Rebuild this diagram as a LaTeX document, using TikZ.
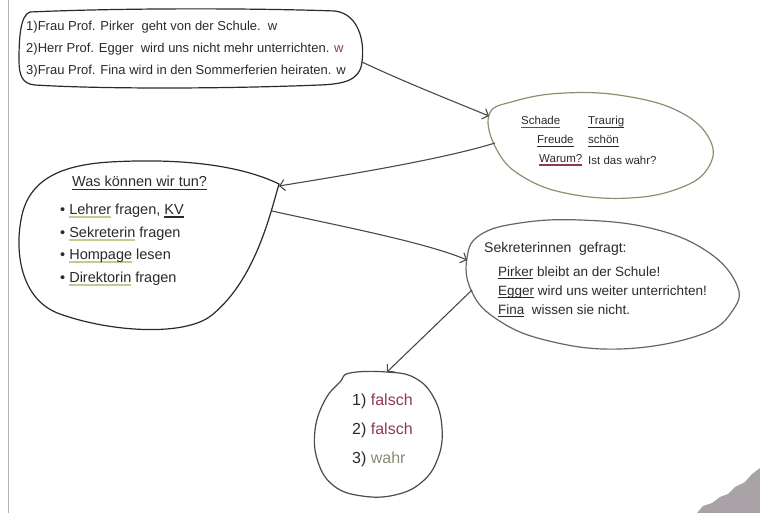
\documentclass[tikz,border=0pt]{standalone}
\usepackage{fontspec}
\setmainfont{Liberation Sans}
\usetikzlibrary{arrows.meta}
\definecolor{ink}{HTML}{2A2A2A}
\definecolor{pen}{HTML}{4A4A4A}
\definecolor{olivepen}{HTML}{8E8E70}
\definecolor{greypen}{HTML}{666666}
\definecolor{redink}{HTML}{8E3A52}
\definecolor{hlgreen}{HTML}{C9C98F}
\definecolor{wahrc}{HTML}{8A8A74}
\definecolor{smudge}{HTML}{A9A2A6}
\definecolor{marginc}{HTML}{B4B4B4}
\newlength\ulw
\newcommand\uln[2]{\settowidth{\ulw}{#2}\rlap{\color{#1}\rule[-3pt]{\ulw}{1.1pt}}#2}
\newcommand\hlw[1]{\settowidth{\ulw}{#1}\rlap{\color{hlgreen}\rule[-3.5pt]{\ulw}{2.4pt}}#1}
\begin{document}
\begin{tikzpicture}[x=1pt,y=-1pt,
  blob/.style={draw=pen, line width=1.2pt, line join=round},
  conn/.style={draw=pen, line width=1.1pt, -{Straight Barb[length=5pt,width=11pt]}},
  txt/.style={anchor=west, inner sep=0pt, text=ink, font=\fontsize{13}{15}\selectfont},
  stxt/.style={txt, font=\fontsize{11.5}{13}\selectfont},
  wtxt/.style={txt, font=\fontsize{14.5}{17}\selectfont},
  ktxt/.style={txt, font=\fontsize{13.5}{15}\selectfont},
  atxt/.style={txt, font=\fontsize{16}{18}\selectfont}]
\useasboundingbox (0,0) rectangle (760,513);
% paper margin and smudge
\draw[marginc, line width=1pt] (8,0) -- (8,513);
\fill[smudge] (697,513) -- (703,506) -- (712,503) -- (720,497) -- (728,494) -- (735,487)
  -- (745,482) -- (752,474) -- (760,468) -- (760,513) -- cycle;

% outlines
\draw[blob, draw=ink] (30,12) .. controls (120,8) and (250,8) .. (335,11)
  .. controls (358,14) and (365,40) .. (362,62)
  .. controls (360,80) and (345,84) .. (320,85)
  .. controls (220,89) and (100,89) .. (35,85)
  .. controls (22,84) and (19,75) .. (19,60)
  .. controls (19,40) and (20,15) .. (30,12) -- cycle;
\draw[blob, draw=olivepen] plot[smooth cycle, tension=0.7] coordinates {(489,115) (515,101) (565,93) (625,96) (680,112) (710,140) (708,168) (680,188) (630,198) (570,194) (525,178) (498,152)};
\draw[blob, draw=ink] (279,184) .. controls (270,215) and (255,280) .. (212,315)
  .. controls (185,337) and (110,332) .. (60,314)
  .. controls (20,300) and (14,250) .. (22,215)
  .. controls (30,180) and (60,165) .. (110,162)
  .. controls (180,158) and (240,165) .. (279,184) -- cycle;
\draw[blob, draw=greypen] plot[smooth cycle, tension=0.7] coordinates {(467,258) (480,235) (520,223) (580,220) (650,228) (705,250) (736,283) (733,310) (700,335) (620,349) (545,340) (495,318) (471,290)};
\draw[blob] plot[smooth cycle, tension=0.7] coordinates {(350,373) (387,372) (415,378) (434,398) (442,428) (438,458) (422,482) (395,495) (362,496) (334,486) (318,462) (315,430) (325,400) (340,382)};

% connector end points on the outlines
\coordinate (topOut) at (362,62);
\coordinate (schIn) at (489,116);
\coordinate (schOut) at (495,143);
\coordinate (wasIn) at (279,186);
\coordinate (wasOut) at (272,211);
\coordinate (sekIn) at (467,260);
\coordinate (sekOut) at (472,290);
\coordinate (ansIn) at (387,372);

% top box text
\node[txt] (l1) at (26,27) {1)Frau Prof. Pirker\ \ geht von der Schule.\ \ w};
\node[txt] (l2) at (26,49) {2)Herr Prof. Egger\ \ wird uns nicht mehr unterrichten. \textcolor{redink}{w}};
\node[txt] (l3) at (26,71) {3)Frau Prof. Fina wird in den Sommerferien heiraten. w};

% Schade ellipse text
\node[stxt] (s1) at (521,122) {\uln{redink}{Schade}};
\node[stxt] (s2) at (588,122) {\uln{ink}{Traurig}};
\node[stxt] (s3) at (537,141) {\uln{ink}{Freude}};
\node[stxt] (s4) at (588,141) {\uln{ink}{schön}};
\node[stxt] (s5) at (539,160) {\uln{redink}{Warum?}};
\node[stxt] (s6) at (588,160) {Ist das wahr?};

% Was koennen wir tun
\node[wtxt] (w0) at (72,183) {\uln{ink}{Was können wir tun?}};
\node[wtxt] (w1) at (60,211) {•\ \hlw{Lehrer} fragen, \hlw{\uln{ink}{KV}}};
\node[wtxt] (w2) at (60,234) {•\ \hlw{Sekreterin} fragen};
\node[wtxt] (w3) at (60,256) {•\ \hlw{Hompage} lesen};
\node[wtxt] (w4) at (60,279) {•\ \hlw{Direktorin} fragen};

% Sekreterinnen
\node[txt, font=\fontsize{14}{16}\selectfont] (k0) at (484,249) {Sekreterinnen\ \ gefragt:};
\node[ktxt] (k1) at (498,273) {\uln{ink}{Pirker} bleibt an der Schule!};
\node[ktxt] (k2) at (498,292) {\uln{ink}{Egger} wird uns weiter unterrichten!};
\node[ktxt] (k3) at (498,311) {\uln{ink}{Fina}\ \ wissen sie nicht.};

% answers
\node[atxt] (a1) at (352,401) {1)\ \textcolor{redink}{falsch}};
\node[atxt] (a2) at (352,430) {2)\ \textcolor{redink}{falsch}};
\node[atxt] (a3) at (352,459) {3)\ \textcolor{wahrc}{wahr}};

% connectors
\draw[conn] (topOut) .. controls (400,80) and (445,98) .. (schIn);
\draw[conn] (schOut) .. controls (440,160) and (340,176) .. (wasIn);
\draw[conn] (wasOut) .. controls (330,224) and (425,242) .. (sekIn);
\draw[conn] (sekOut) -- (ansIn);
\end{tikzpicture}
\end{document}
